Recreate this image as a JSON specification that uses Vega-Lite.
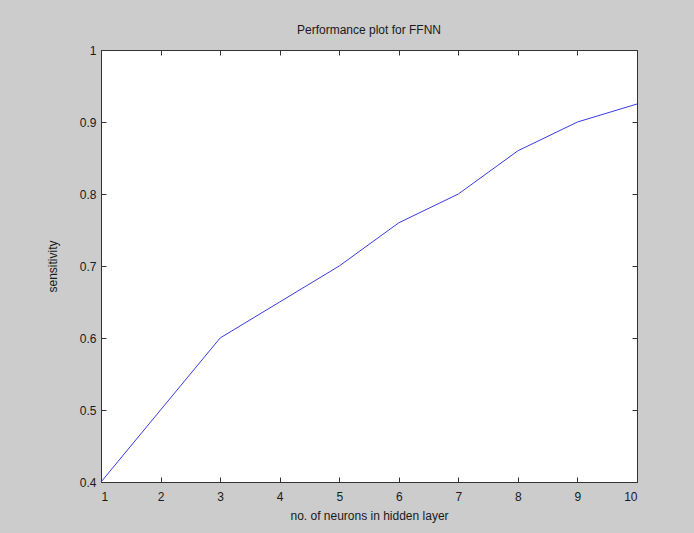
{
  "$schema": "https://vega.github.io/schema/vega-lite/v6.json",
  "autosize": "none",
  "width": 536,
  "height": 432,
  "padding": {"left": 101, "top": 50, "right": 57, "bottom": 51},
  "background": "#cccccc",
  "config": {
    "view": {"fill": "white", "stroke": "#333333", "strokeWidth": 1},
    "font": "Liberation Sans",
    "axis": {"grid": false, "domain": false, "tickColor": "#333333", "tickSize": -5, "labelFontSize": 12, "labelColor": "#1a1a1a", "titleFontSize": 12, "titleFontWeight": "normal", "titleColor": "#1a1a1a"}
  },
  "title": {"text": "Performance plot for FFNN", "fontSize": 12, "fontWeight": "normal", "color": "#1a1a1a", "offset": 7},
  "data": {"values": [
    {"n": 1, "s": 0.4},
    {"n": 2, "s": 0.5},
    {"n": 3, "s": 0.6},
    {"n": 4, "s": 0.65},
    {"n": 5, "s": 0.7},
    {"n": 6, "s": 0.76},
    {"n": 7, "s": 0.8},
    {"n": 8, "s": 0.86},
    {"n": 9, "s": 0.9},
    {"n": 10, "s": 0.925}
  ]},
  "layer": [
    {
      "mark": {"type": "line", "color": "#3a3ae6", "strokeWidth": 1},
      "encoding": {
        "x": {"field": "n", "type": "quantitative", "scale": {"domain": [1, 10], "nice": false, "zero": false},
              "axis": {"values": [1,2,3,4,5,6,7,8,9,10], "title": "no. of neurons in hidden layer", "labelPadding": 14, "titlePadding": 8}},
        "y": {"field": "s", "type": "quantitative", "scale": {"domain": [0.4, 1], "nice": false, "zero": false},
              "axis": {"values": [0.4,0.5,0.6,0.7,0.8,0.9,1], "format": "~g", "title": "sensitivity", "labelPadding": 10, "titlePadding": 20}}
      }
    },
    {
      "mark": {"type": "line", "opacity": 0},
      "encoding": {
        "x": {"field": "n", "type": "quantitative", "scale": {"domain": [1, 10], "nice": false, "zero": false},
              "axis": {"orient": "top", "values": [1,2,3,4,5,6,7,8,9,10], "labels": false, "title": null}},
        "y": {"field": "s", "type": "quantitative", "scale": {"domain": [0.4, 1], "nice": false, "zero": false},
              "axis": {"orient": "right", "values": [0.4,0.5,0.6,0.7,0.8,0.9,1], "labels": false, "title": null}}
      }
    }
  ],
  "resolve": {"axis": {"x": "independent", "y": "independent"}}
}
